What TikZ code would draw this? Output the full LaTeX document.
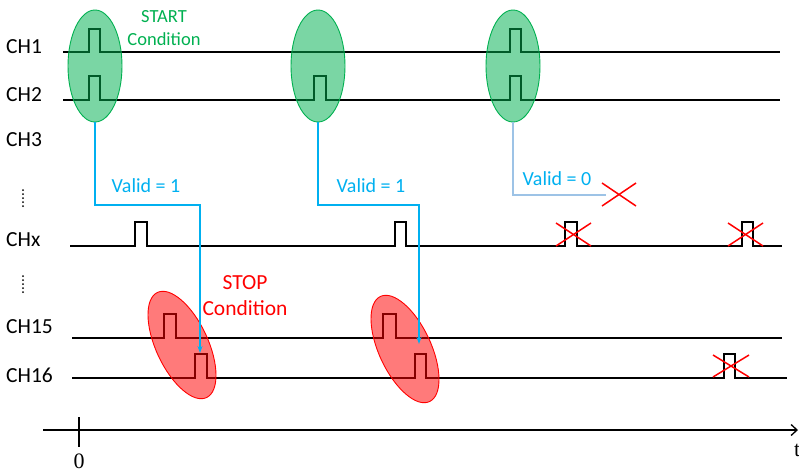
\documentclass[tikz,border=0pt]{standalone}
\usepackage{fontspec}
\newfontfamily\calib{Carlito}
\newfontfamily\timesf{Liberation Serif}
\usetikzlibrary{shapes.geometric,arrows.meta}
\definecolor{okgreen}{HTML}{00B050}
\definecolor{okblue}{HTML}{00B0F0}
\definecolor{paleblue}{HTML}{9DC3E6}
\definecolor{okred}{HTML}{FF0000}
\begin{document}
\begin{tikzpicture}[x=1pt,y=-1pt,
  sig/.style={line width=1.3pt,black},
  chlabel/.style={anchor=west,inner sep=0pt,font=\calib\fontsize{21.5}{25}\selectfont},
  startell/.style={ellipse,draw=okgreen,line width=0.9pt,fill=okgreen,fill opacity=0.52,draw opacity=1,inner sep=0pt,minimum width=54pt,minimum height=112pt},
  stopell/.style={ellipse,draw=okred,line width=0.9pt,fill=okred,fill opacity=0.52,draw opacity=1,inner sep=0pt,minimum width=52pt,minimum height=116pt,rotate=25},
  validline/.style={okblue,line width=1.5pt},
  validtxt/.style={okblue,inner sep=0pt,font=\calib\fontsize{20}{24}\selectfont},
  cross/.style={okred,line width=1.5pt},
  dotsv/.style={line width=2pt,dash pattern=on 0pt off 4pt,line cap=round}
]
\useasboundingbox (0,0) rectangle (799,472);

% channel labels
\node[chlabel] (l1) at (6,47) {CH1};
\node[chlabel] (l2) at (6,95) {CH2};
\node[chlabel] (l3) at (6,140) {CH3};
\node[chlabel] (lx) at (6,240) {CHx};
\node[chlabel] (l15) at (6,327) {CH15};
\node[chlabel] (l16) at (6,375) {CH16};
\draw[dotsv] (23,190) -- (23,207);
\draw[dotsv] (23,276) -- (23,293);

% signals
\draw[sig] (63,52) -- (89,52) -- ++(0,-23) -- ++(11,0) -- ++(0,23)
  -- (510,52) -- ++(0,-23) -- ++(11,0) -- ++(0,23) -- (780,52);
\draw[sig] (63,100) -- (89,100) -- ++(0,-24) -- ++(11,0) -- ++(0,24)
  -- (314,100) -- ++(0,-24) -- ++(12,0) -- ++(0,24)
  -- (510,100) -- ++(0,-24) -- ++(11,0) -- ++(0,24) -- (780,100);
\draw[sig] (70,246) -- (135,246) -- ++(0,-24) -- ++(12,0) -- ++(0,24)
  -- (395,246) -- ++(0,-24) -- ++(11,0) -- ++(0,24)
  -- (565,246) -- ++(0,-24) -- ++(12,0) -- ++(0,24)
  -- (742,246) -- ++(0,-24) -- ++(11,0) -- ++(0,24) -- (782,246);
\draw[sig] (72,338) -- (164,338) -- ++(0,-24) -- ++(12,0) -- ++(0,24)
  -- (383,338) -- ++(0,-24) -- ++(13,0) -- ++(0,24) -- (782,338);
\draw[sig] (72,378) -- (195,378) -- ++(0,-24) -- ++(12,0) -- ++(0,24)
  -- (415,378) -- ++(0,-24) -- ++(11,0) -- ++(0,24)
  -- (724,378) -- ++(0,-24) -- ++(11,0) -- ++(0,24) -- (787,378);

% start ellipses
\node[startell] (s1) at (95,66) {};
\node[startell] (s2) at (318,66) {};
\node[startell] (s3) at (513,66) {};
\node[okgreen,inner sep=0pt,align=center,font=\calib\fontsize{18.5}{23}\selectfont] (st) at (164,28) {START\\Condition};

% stop ellipses
\node[stopell] (p1) at (182,345) {};
\node[stopell] (p2) at (405,349) {};
\node[okred,inner sep=0pt,align=center,font=\calib\fontsize{21.5}{26}\selectfont] (sp) at (245,296) {STOP\\Condition};

% valid connectors
\coordinate (a1) at (200,353);
\coordinate (a2) at (419,344);
\coordinate (a3) at (606,195);
\draw[validline,-{Stealth[length=7pt,width=5pt]}] (s1.south) -- (95,205) -| (a1);
\draw[validline,-{Stealth[length=7pt,width=5pt]}] (s2.south) -- (318,205) -| (a2);
\draw[paleblue,line width=1.2pt] (s3.south) |- (a3);
\node[validtxt] (v1) at (146,186) {Valid = 1};
\node[validtxt] (v2) at (371,186) {Valid = 1};
\node[validtxt] (v0) at (557,179) {Valid = 0};

% crosses
\draw[cross] (602,183) -- (636,206) (602,206) -- (636,183);
\draw[cross] (556,223) -- (591,246) (556,246) -- (591,223);
\draw[cross] (728,223) -- (763,246) (728,246) -- (763,223);
\draw[cross] (713,355) -- (749,377) (713,377) -- (749,355);

% time axis
\coordinate (ax0) at (43,430);
\coordinate (ax1) at (798,430);
\draw[line width=1.3pt,-{Straight Barb[length=6pt,width=11pt]}] (ax0) -- (ax1);
\draw[line width=1.3pt] (79,417) -- (79,447);
\node[inner sep=0pt,font=\timesf\fontsize{22}{26}\selectfont] (z) at (79,461) {0};
\node[anchor=west,inner sep=0pt,font=\timesf\fontsize{22}{26}\selectfont] (t) at (794,450) {t};
\end{tikzpicture}
\end{document}
